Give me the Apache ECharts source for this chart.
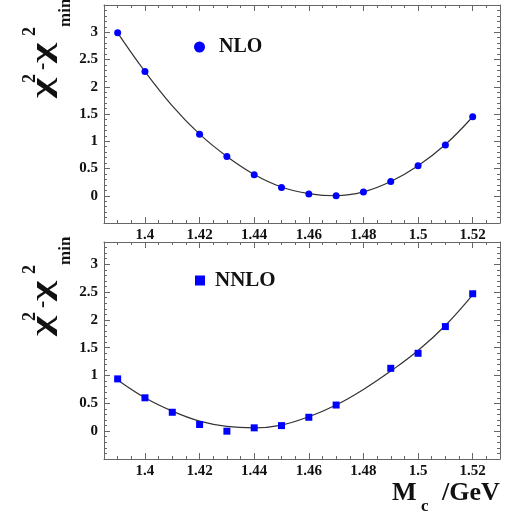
<!DOCTYPE html>
<html><head><meta charset="utf-8">
<script src="https://cdn.jsdelivr.net/npm/echarts@6/dist/echarts.min.js"></script>
<style>html,body{margin:0;padding:0;background:#fff}#c{width:508px;height:516px}</style>
</head><body><div id="c"></div>
<script>
// ---- data ----
const massNLO  = [1.39, 1.40, 1.42, 1.43, 1.44, 1.45, 1.46, 1.47, 1.48, 1.49, 1.50, 1.51, 1.52];
const chiNLO   = [2.99, 2.28, 1.13, 0.72, 0.385, 0.15, 0.03, 0.0, 0.07, 0.26, 0.55, 0.93, 1.45];
const massNNLO = [1.39, 1.40, 1.41, 1.42, 1.43, 1.44, 1.45, 1.46, 1.47, 1.49, 1.50, 1.51, 1.52];
const chiNNLO  = [0.94, 0.60, 0.34, 0.12, 0.0, 0.06, 0.10, 0.25, 0.47, 1.13, 1.40, 1.88, 2.47];
const fitMass  = [1.39, 1.40, 1.41, 1.42, 1.43, 1.44, 1.45, 1.46, 1.47, 1.48, 1.49, 1.50, 1.51, 1.52];
const fitNLO   = [2.99, 2.28, 1.65, 1.13, 0.72, 0.39, 0.16, 0.04, 0.0, 0.07, 0.26, 0.55, 0.94, 1.45];
const fitNNLO  = [0.92, 0.60, 0.36, 0.18, 0.085, 0.06, 0.11, 0.26, 0.47, 0.75, 1.08, 1.45, 1.90, 2.45];
const seriesNames = ['NLO', 'NNLO'];
const xRange = [1.385, 1.53];
const yRangeTop = [-0.5, 3.5];
const yRangeBottom = [-0.5, 3.4];

const FONT = '"Liberation Serif", "Times New Roman", serif';
const FRAME = '#666';
const TXT = '#111';
const pair = (xs, ys) => xs.map((x, i) => [x, ys[i]]);
const fmt = v => String(parseFloat((+v).toFixed(3)));

function xAxes(g) {
  const base = {type: 'value', gridIndex: g, min: xRange[0], max: xRange[1], splitLine: {show: false}};
  const major = Object.assign({}, base, {splitNumber: 7, minInterval: 0.02, maxInterval: 0.02});
  const minor = Object.assign({}, base, {interval: 0.005});
  return [
    Object.assign({}, major, {position: 'bottom',
      axisLine: {show: true, onZero: false, lineStyle: {color: FRAME, width: 1}},
      axisTick: {show: true, inside: true, length: 6, lineStyle: {color: FRAME}},
      axisLabel: {show: true, showMinLabel: false, showMaxLabel: false, margin: 5, formatter: fmt,
        fontFamily: FONT, fontWeight: 'bold', fontSize: 15, color: TXT}}),
    Object.assign({}, minor, {position: 'bottom', axisLine: {show: false, onZero: false},
      axisTick: {show: true, inside: true, length: 3, lineStyle: {color: FRAME}}, axisLabel: {show: false}}),
    Object.assign({}, major, {position: 'top',
      axisLine: {show: true, onZero: false, lineStyle: {color: FRAME, width: 1}},
      axisTick: {show: true, inside: true, length: 6, lineStyle: {color: FRAME}}, axisLabel: {show: false}}),
    Object.assign({}, minor, {position: 'top', axisLine: {show: false, onZero: false},
      axisTick: {show: true, inside: true, length: 3, lineStyle: {color: FRAME}}, axisLabel: {show: false}})
  ];
}
function yAxes(g, r) {
  const base = {type: 'value', gridIndex: g, min: r[0], max: r[1], splitLine: {show: false}};
  const major = Object.assign({}, base, {interval: 0.5});
  const minor = Object.assign({}, base, {interval: 0.1});
  return [
    Object.assign({}, major, {position: 'left',
      axisLine: {show: true, onZero: false, lineStyle: {color: FRAME, width: 1}},
      axisTick: {show: true, inside: true, length: 6, lineStyle: {color: FRAME}},
      axisLabel: {show: true, showMinLabel: false, showMaxLabel: false, margin: 6, formatter: fmt,
        fontFamily: FONT, fontWeight: 'bold', fontSize: 15, color: TXT}}),
    Object.assign({}, minor, {position: 'left', axisLine: {show: false, onZero: false},
      axisTick: {show: true, inside: true, length: 3, lineStyle: {color: FRAME}}, axisLabel: {show: false}}),
    Object.assign({}, major, {position: 'right',
      axisLine: {show: true, onZero: false, lineStyle: {color: FRAME, width: 1}},
      axisTick: {show: true, inside: true, length: 6, lineStyle: {color: FRAME}}, axisLabel: {show: false}}),
    Object.assign({}, minor, {position: 'right', axisLine: {show: false, onZero: false},
      axisTick: {show: true, inside: true, length: 3, lineStyle: {color: FRAME}}, axisLabel: {show: false}})
  ];
}

function yTitle(x, y) {
  const t = (text, lx, ly, size, sx, sy) => ({type: 'text', x: lx, y: ly, scaleX: sx || 1, scaleY: sy || 1,
    style: {text: text, font: 'bold ' + size + 'px ' + FONT, fill: TXT, align: 'left', verticalAlign: 'middle'}});
  return {type: 'group', x: x, y: y, rotation: Math.PI / 2, children: [
    t('χ', -1, -3, 36, 1.2, 0.8),
    t('2', 14, -17, 18),
    t('-', 27, -5, 22),
    t('χ', 34, -3, 36, 1.2, 0.8),
    t('2', 61, -17, 18),
    t('min', 70, 19, 17)
  ]};
}

const legendText = {fontFamily: FONT, fontWeight: 'bold', fontSize: 20, color: TXT};
const chart = echarts.init(document.getElementById('c'), null, {renderer: 'canvas'});
chart.setOption({
  animation: false,
  backgroundColor: '#fff',
  grid: [
    {left: 104, top: 5, width: 396, height: 218},
    {left: 104, top: 242, width: 396, height: 217}
  ],
  xAxis: xAxes(0).concat(xAxes(1)),
  yAxis: yAxes(0, yRangeTop).concat(yAxes(1, yRangeBottom)),
  legend: [
    {data: [seriesNames[0]], left: 189, top: 32, itemWidth: 11, itemHeight: 11, selectedMode: false,
     textStyle: Object.assign({padding: [0, 0, 0, 9]}, legendText)},
    {data: [seriesNames[1]], left: 190, top: 265, itemWidth: 10, itemHeight: 10, selectedMode: false,
     textStyle: Object.assign({padding: [0, 0, 0, 5]}, legendText, {fontSize: 21})}
  ],
  series: [
    {type: 'line', name: 'fit NLO', xAxisIndex: 0, yAxisIndex: 0, data: pair(fitMass, fitNLO),
     showSymbol: false, symbol: 'none', smooth: 0.4, silent: true, z: 2,
     lineStyle: {color: '#333', width: 1.2}},
    {type: 'scatter', name: seriesNames[0], xAxisIndex: 0, yAxisIndex: 0, data: pair(massNLO, chiNLO),
     symbol: 'circle', symbolSize: 7, itemStyle: {color: '#0000ff', opacity: 1}, z: 3},
    {type: 'line', name: 'fit NNLO', xAxisIndex: 4, yAxisIndex: 4, data: pair(fitMass, fitNNLO),
     showSymbol: false, symbol: 'none', smooth: 0.4, silent: true, z: 2,
     lineStyle: {color: '#333', width: 1.2}},
    {type: 'scatter', name: seriesNames[1], xAxisIndex: 4, yAxisIndex: 4, data: pair(massNNLO, chiNNLO),
     symbol: 'rect', symbolSize: 7, itemStyle: {color: '#0000ff', opacity: 1}, z: 3}
  ],
  graphic: [
    yTitle(47, 97),
    yTitle(47, 335),
    {type: 'text', x: 392, y: 493, style: {text: 'M', font: 'bold 26px ' + FONT, fill: TXT, align: 'left', verticalAlign: 'middle'}},
    {type: 'text', x: 421, y: 507, style: {text: 'c', font: 'bold 17px ' + FONT, fill: TXT, align: 'left', verticalAlign: 'middle'}},
    {type: 'text', x: 442, y: 493, style: {text: '/GeV', font: 'bold 26px ' + FONT, fill: TXT, align: 'left', verticalAlign: 'middle'}}
  ]
});
</script>
</body></html>
